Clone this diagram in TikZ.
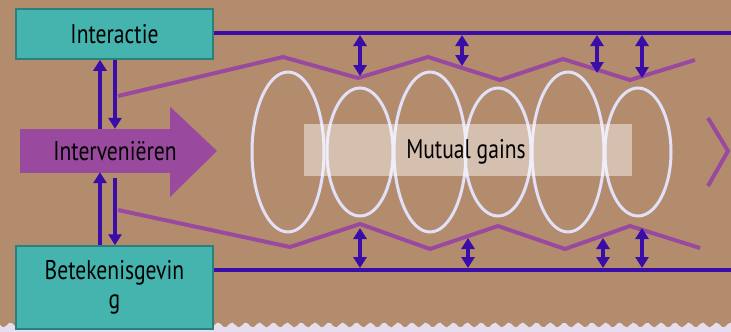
\documentclass[tikz,border=0pt]{standalone}
\usepackage{fontspec}
\setmainfont{PT Sans}[FakeStretch=0.8]
\usepackage{tikz}
\usetikzlibrary{arrows.meta,positioning,calc}
\definecolor{bgbrown}  {HTML}{B38C6E}
\definecolor{teal1}    {HTML}{45B4AE}
\definecolor{teal2}    {HTML}{2C807B}
\definecolor{indigo1}  {HTML}{3A0CA8}
\definecolor{purple1}  {HTML}{9A4A9E}
\definecolor{lavender1}{HTML}{E2E0F7}
\definecolor{paper}    {HTML}{E6DEEE}
\begin{document}
\begin{tikzpicture}[
  x=1pt, y=-1pt,
  box/.style  ={draw=teal2,line width=1.5pt,fill=teal1,minimum width=197pt,
                align=center,inner sep=0pt,font=\fontsize{27}{29}\selectfont},
  arr/.style  ={-{Triangle[width=13pt,length=11pt]},line width=4pt,color=indigo1},
  darr/.style ={{Triangle[width=13pt,length=11pt]}-{Triangle[width=13pt,length=11pt]},
                line width=3.5pt,color=indigo1},
  hline/.style={line width=4pt,color=indigo1},
  zig/.style  ={line width=4pt,color=purple1,line join=miter},
  ell/.style  ={line width=3pt,color=lavender1},
  lbl/.style  ={font=\fontsize{27}{29}\selectfont,inner sep=0pt}
]
%% background
\useasboundingbox (0,0) rectangle (731,332);
\fill[bgbrown] (0,0) rectangle (731,332);
\fill[paper] plot[domain=0:731,samples=240] (\x,{325+2.5*sin(2*mod(13*\x,180))})
  -- (731,332) -- (0,332) -- cycle;
%% boxes
\node[box,minimum height=50pt] (interactie) at (114.5,34) {Interactie};
\node[box,minimum height=83pt] (betek) at (114.5,287.5) {Betekenisgevin\\g};
%% Intervenieren arrow (body + head)
\node[fill=purple1,minimum width=150pt,minimum height=44pt,inner sep=0pt]
  (interv) at (95,151) {};
\fill[purple1] ([yshift=-1pt]interv.north east) -- ++(0,-23) -- (217,151)
  -- (170,197) -- ([yshift=1pt]interv.south east) -- cycle;
\node[lbl] (intervlbl) at (115,151) {Interveniëren};
%% horizontal lines
\coordinate (topend) at (731,33);
\coordinate (botend) at (731,270);
\draw[hline] (interactie.east |- topend) -- (topend);
\draw[hline] (betek.east |- botend) -- (botend);
%% vertical arrows
\draw[arr] (interv.north -| 100,0) -- (interactie.south -| 100,0);
\draw[arr] (interactie.south -| 115,0) -- (interv.north -| 115,0);
\draw[arr] (betek.north -| 100,0) -- ([yshift=1pt]interv.south -| 100,0);
\draw[arr] ([yshift=-5pt]interv.south -| 115,0) -- (betek.north -| 115,0);
%% ellipses
\foreach \cx/\rx/\ry in {288/36/80,360/33/64,430/36/80,498/33/64,568/36/80,638/33/64}
  \draw[ell] (\cx,152) ellipse[x radius=\rx, y radius=\ry];
%% Mutual gains
\node[fill=white,fill opacity=0.45,text opacity=1,minimum width=328pt,
      minimum height=52pt,inner sep=0pt] (mutual) at (468,150) {};
\node[lbl] (mutuallbl) at (466,152) {Mutual gains};
%% zigzags
\draw[zig] (118,96) -- (283,57) -- (358,78) -- (428,57) -- (500,80)
  -- (563,59) -- (630,80) -- (695,60);
\draw[zig] (118,210) -- (290,247) -- (360,224) -- (430,249) -- (498,226)
  -- (565,249) -- (630,226) -- (700,248);
\draw[zig] (708,118) -- (728,151) -- (708,186);
%% double arrows
\foreach \x/\y in {360/76,462/66,597/73,642/78}
  \draw[darr] (\x,35) -- (\x,\y);
\foreach \x/\y in {360/228,468/238,603/238,642/228}
  \draw[darr] (\x,\y) -- (\x,268);
\end{tikzpicture}
\end{document}
